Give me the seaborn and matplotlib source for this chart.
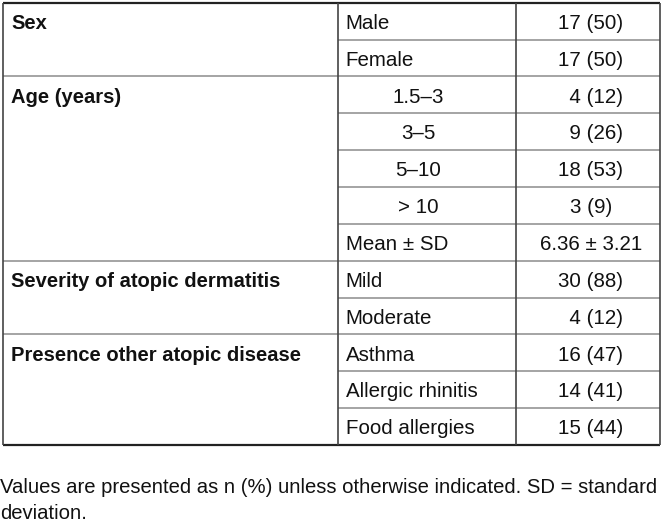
import numpy as np
import seaborn as sns
import matplotlib.pyplot as plt


GROUPS = ["Sex", "Age (years)", "Severity of atopic dermatitis", "Presence other atopic disease"]
GROUP_SIZES = [2, 5, 2, 3]
ITEMS = ["Male", "Female", "1.5–3", "3–5", "5–10", "> 10", "Mean ± SD",
         "Mild", "Moderate", "Asthma", "Allergic rhinitis", "Food allergies"]
VALUES = ["17 (50)", "17 (50)", "\u20074 (12)", "\u20079 (26)", "18 (53)", "3 (9)", "6.36 ± 3.21",
          "30 (88)", "\u20074 (12)", "16 (47)", "14 (41)", "15 (44)"]
CENTERED_ITEMS = ["1.5–3", "3–5", "5–10", "> 10"]
FOOTNOTE_LINES = ["Values are presented as n (%) unless otherwise indicated. SD = standard",
                  "deviation."]

# table geometry in pixels
W, H = 662, 523
TOP = 2.7
ROW_H = 36.85
COL_X = [2.5, 337.5, 516.0, 659.5]
FS_BOLD = 14.5
FS_TEXT = 14.8
FS_NOTE = 14.6
BASE_SHIFT = 7.8  # baseline below row centre


def draw_table(ax):
    n_rows = len(ITEMS)
    row_edges = TOP + ROW_H * np.arange(n_rows + 1)
    group_edges = np.concatenate([[0], np.cumsum(GROUP_SIZES)])
    bottom = row_edges[-1]

    # inner row lines for columns 2-3
    ax.hlines(row_edges[1:-1], COL_X[1], COL_X[3], color="#8c8c8c", lw=1.1)
    # group lines spanning column 1
    ax.hlines(row_edges[group_edges[1:-1]], COL_X[0], COL_X[1], color="#8c8c8c", lw=1.1)
    # outer borders
    ax.hlines([TOP, bottom], COL_X[0], COL_X[3], color="#222222", lw=1.6)
    ax.vlines(COL_X, TOP, bottom, color="#444444", lw=1.2)

    centers = (row_edges[:-1] + row_edges[1:]) / 2 + BASE_SHIFT
    for g, start in zip(GROUPS, group_edges[:-1]):
        ax.text(COL_X[0] + 8.5, centers[start], g, fontsize=FS_BOLD, fontweight="bold",
                ha="left", va="baseline", color="#111111")
    for y, item, val in zip(centers, ITEMS, VALUES):
        if item in CENTERED_ITEMS:
            ax.text(418, y, item, fontsize=FS_TEXT, ha="center", va="baseline", color="#111111")
        else:
            ax.text(COL_X[1] + 8, y, item, fontsize=FS_TEXT, ha="left", va="baseline", color="#111111")
        ax.text(591, y, val, fontsize=FS_TEXT, ha="center", va="baseline", color="#111111")

    for i, line in enumerate(FOOTNOTE_LINES):
        ax.text(0.5, bottom + 48.5 + i * 25.5, line, fontsize=FS_NOTE, ha="left", va="baseline",
                color="#111111")


def main():
    sns.set_theme(style="white")
    plt.rcParams["font.family"] = ["Liberation Sans", "DejaVu Sans"]

    fig = plt.figure(figsize=(W / 100, H / 100), dpi=100)
    ax = fig.add_axes([0, 0, 1, 1])
    ax.set_xlim(0, W)
    ax.set_ylim(H, 0)
    ax.axis("off")

    draw_table(ax)

    fig.savefig("out.png", dpi=100, facecolor="white")


if __name__ == "__main__":
    main()
